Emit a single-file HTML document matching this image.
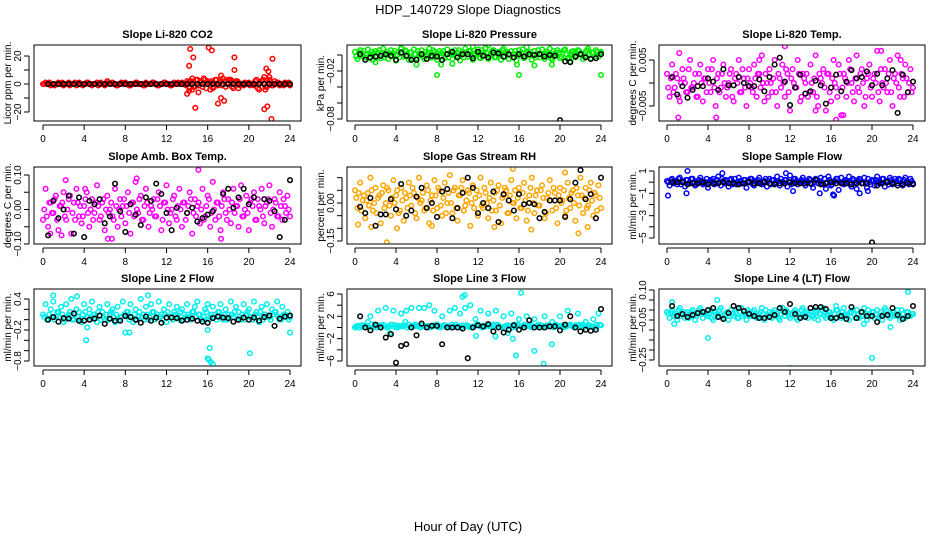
<!DOCTYPE html>
<html><head><meta charset="utf-8"><style>
html,body{margin:0;padding:0;background:#fff}
svg{display:block;font-family:"Liberation Sans",Arial,sans-serif}
</style></head><body>
<svg id="chart" width="936" height="540" viewBox="0 0 936 540" xmlns="http://www.w3.org/2000/svg">
<text x="468" y="14" font-size="13" text-anchor="middle">HDP_140729  Slope Diagnostics</text>
<text x="468" y="531" font-size="13" text-anchor="middle">Hour of Day (UTC)</text>
<g id="panels"></g>
</svg>
<script>
const xTickValues=[0,4,8,12,16,20,24];
const HRS=[0,.25,.5,.75,1,1.25,1.5,1.75,2,2.25,2.5,2.75,3,3.25,3.5,3.75,4,4.25,4.5,4.75,5,5.25,5.5,5.75,6,6.25,6.5,6.75,7,7.25,7.5,7.75,8,8.25,8.5,8.75,9,9.25,9.5,9.75,10,10.25,10.5,10.75,11,11.25,11.5,11.75,12,12.25,12.5,12.75,13,13.25,13.5,13.75,14,14.25,14.5,14.75,15,15.25,15.5,15.75,16,16.25,16.5,16.75,17,17.25,17.5,17.75,18,18.25,18.5,18.75,19,19.25,19.5,19.75,20,20.25,20.5,20.75,21,21.25,21.5,21.75,22,22.25,22.5,22.75,23,23.25,23.5,23.75,24];
const HRS2=[.12,.37,.62,.87,1.12,1.37,1.62,1.87,2.12,2.37,2.62,2.87,3.12,3.37,3.62,3.87,4.12,4.37,4.62,4.87,5.12,5.37,5.62,5.87,6.12,6.37,6.62,6.87,7.12,7.37,7.62,7.87,8.12,8.37,8.62,8.87,9.12,9.37,9.62,9.87,10.12,10.37,10.62,10.87,11.12,11.37,11.62,11.87,12.12,12.37,12.62,12.87,13.12,13.37,13.62,13.87,14.12,14.37,14.62,14.87,15.12,15.37,15.62,15.87,16.12,16.37,16.62,16.87,17.12,17.37,17.62,17.87,18.12,18.37,18.62,18.87,19.12,19.37,19.62,19.87,20.12,20.37,20.62,20.87,21.12,21.37,21.62,21.87,22.12,22.37,22.62,22.87,23.12,23.37,23.62,23.87];
const HB=[.5,1,1.5,2,2.5,3,3.5,4,4.5,5,5.5,6,6.5,7,7.5,8,8.5,9,9.5,10,10.5,11,11.5,12,12.5,13,13.5,14,14.5,15,15.5,16,16.5,17,17.5,18,18.5,19,19.5,20,20.5,21,21.5,22,22.5,23,23.5,24];

// Panel 1 CO2
const co2Color=[0,1,0,-1,0,0,1,0,-1,0,1,0,0,-1,1,0,0,1,0,-1,0,1,0,0,-1,2,0,1,0,-1,0,0,1,0,-1,0,1,0,0,-1,1,0,0,1,0,-1,0,1,0,0,-1,1,0,0,1,0,2,-3,4,-2,3,1,-2,3,2,-4,1,3,-1,2,4,-2,1,3,-3,2,1,0,-1,0,1,0,-1,3,-4,2,5,-2,3,-1,2,1,-1,0,1,0,-1];
const co2Color2=[0,0,1,0,-1,0,0,1,0,0,-1,0,1,0,0,-1,0,1,0,0,0,-1,1,0,0,1,0,0,-1,0,1,0,0,-1,0,0,1,0,0,-1,0,0,1,0,-1,0,0,1,0,-1,0,0,1,0,0,-1,1,2,-2,3,-1,2,4,-3,1,2,-2,3,1,-1,2,0,3,-2,1,2,-1,0,1,0,-1,0,2,-3,1,3,-2,1,2,-1,0,1,0,-1,0,1];
const co2OutH=[14.2,14.3,14.6,14.8,14,14.2,15.1,16.1,16.4,17,17.3,17.6,17.3,18.6,18.6,21.5,21.8,21.7,21.9,22,22.3,22.2,21.6,15,16.5,19,14.5,18];
const co2OutV=[13,25,19,-17,-7,-5,-6,26,24,-14,-10,-12,6,19,10,-18,-16,11,9,5,18,-25,-4,3,-3,-3,-4,3];
const co2Black=[0,0,0,0,0,0,0,0,0,0,0,0,0,0,0,0,0,0,0,0,0,0,0,0,0,0,0,0,0,0,0,0,0,0,0,0,0,0,0,0,0,0,0,0,0,0,0,0];
// Panel 2 Pressure
const presColor=[.004,-.005,.006,.002,-.003,.007,.001,-.006,.005,.003,-.004,.008,0,-.005,.006,.002,-.007,.004,.009,-.002,.005,-.006,.003,.007,-.004,.002,.006,-.005,.001,.008,-.003,.004,-.006,.005,.002,-.004,.007,.001,-.005,.006,.003,-.007,.004,.008,-.002,.005,-.006,.002,.007,-.004,.003,.009,-.005,.001,.006,-.003,.004,-.006,.008,.002,-.005,.005,.001,-.007,.006,.003,-.004,.010,0,-.006,.005,.002,-.003,.007,-.005,.004,.008,-.006,.002,.006,-.004,.003,.007,-.005,.001,.005,-.003,.006,.002,-.005,.004,.008,-.004,.003,.006,-.002,.004];
const presColor2=[-.002,.003,-.001,.005,.0,-.004,.004,.002,-.002,.006,.001,-.003,.004,.002,-.001,.005,.0,-.003,.002,.006,-.001,.003,-.004,.001,.005,.0,-.002,.004,.003,-.003,.006,.0,.002,-.002,.005,.001,-.003,.004,.002,-.001,.006,.0,-.003,.003,.005,-.002,.001,.004,-.003,.006,.0,.002,-.001,.005,-.003,.003,.001,.006,-.002,.004,.0,-.003,.005,.002,-.001,.007,-.002,.003,.004,.0,-.003,.006,.001,-.002,.004,.002,-.004,.005,.0,.003,-.002,.006,.001,-.003,.004,.002,-.001,.005,.0,-.002,.006,.001,.003,-.002,.004,.002];
const presOutH=[8,16,24,6,8.4,9.5,15.8,17.5,19.2,4.5,11.5,13,2,21];
const presOutV=[-.025,-.025,-.025,-.012,-.012,-.011,-.012,-.013,-.012,.008,.011,.012,-.009,-.008];
const presBlack=[.001,-.006,-.003,-.002,-.001,.001,-.001,-.006,.003,-.001,-.006,-.006,.001,-.005,-.001,-.002,-.006,.001,.004,-.003,.001,.001,-.004,.004,-.001,-.003,.003,.002,-.002,.001,-.003,.001,-.002,.001,0,.001,-.002,0,-.001,-.0815,-.008,-.009,-.002,.001,-.003,-.005,-.004,.001];
// Panel 3 Li-820 Temp
const ltColor=[.002,-.003,.004,-.001,.001,-.004,.003,0,-.002,.005,-.001,.002,-.003,.004,-.004,.001,.003,-.002,.005,-.005,.002,-.001,.004,-.003,0,.003,-.004,.002,.005,-.002,.001,-.005,.003,-.001,.004,-.003,.002,.006,-.004,0,.003,-.002,.005,-.005,.001,.004,-.003,.002,-.006,.003,-.001,.005,-.004,.002,0,-.003,.004,-.002,.006,-.005,.001,.003,-.006,.002,-.004,.005,-.001,.004,-.007,.002,-.003,.005,0,-.004,.006,-.002,.003,-.005,.001,.004,-.003,.002,.007,-.004,0,.003,-.002,.005,-.005,.002,.006,-.003,.001,.004,-.002,.003,-.001];
const ltColor2=[-.001,.001,-.002,.002,-.003,0,.001,-.002,.003,-.001,0,-.003,.002,0,.001,-.002,0,.003,-.001,.001,-.002,.002,0,-.001,.002,-.003,.001,0,-.002,.003,-.001,.001,0,-.002,.001,.002,-.001,0,.002,-.003,0,.001,-.002,.002,-.001,0,.003,-.002,.001,0,-.001,.002,-.003,.001,.002,-.002,0,.001,-.003,.002,0,-.001,.002,-.002,.001,0,-.003,.002,-.001,.001,0,.003,-.002,.001,-.001,.002,0,-.003,.002,-.001,.001,0,-.002,.003,-.001,0,.002,-.002,.001,0,-.001,.002,-.003,.001,0,-.002,.001];
const ltOutH=[1.2,1.1,4.8,11.5,13.5,17.5,20.9,16.5,17.2,9,22.8,14.5];
const ltOutV=[.0065,-.0075,-.0075,.008,.0095,.0095,.007,-.008,-.007,.005,.005,-.006];
const ltBlack=[.0013,-.0025,-.0007,-.0032,-.0015,-.0007,-.0007,.001,.0003,-.0015,.003,-.0005,-.0005,.0013,0,-.0007,-.0007,.0008,-.0018,.0013,.004,.0055,.0003,-.0048,-.001,.0018,-.0023,-.0018,.0005,-.0005,-.0045,-.001,.0018,-.0018,.0003,.0028,.001,.0013,.0025,-.0005,.002,-.0005,.001,.0028,-.0065,.0018,-.002,.0003];
// Panel 4 Amb Box Temp
const abColor=[-.03,.06,-.05,.02,-.01,.04,-.06,.01,.05,-.03,.03,-.07,.02,.06,-.02,-.04,.01,.05,-.05,.03,-.01,.07,-.03,.02,-.06,.04,0,-.02,.06,-.05,.03,.01,-.04,.05,-.07,.02,.08,-.01,.04,-.03,.06,-.05,.01,.03,-.02,.05,-.06,.02,.07,-.04,0,.04,-.03,.06,-.05,.02,-.01,.05,-.07,.03,.01,-.04,.06,-.02,.04,-.05,.08,-.03,.02,-.06,.05,-.01,.03,-.04,.06,.01,-.05,.07,-.02,.04,-.06,.03,.05,-.03,.01,.06,-.04,.02,.07,-.05,.03,-.02,.05,-.03,.01,.04,-.02];
const abColor2=[.0,-.02,.02,-.01,.03,-.03,.01,.02,-.02,.0,.04,-.01,-.03,.02,.01,-.02,.03,-.01,.0,-.03,.02,.01,-.02,.03,.0,-.01,.02,-.03,.01,.0,-.02,.03,.01,-.01,.02,-.02,.0,.03,-.03,.01,.02,-.01,.0,-.02,.03,.01,-.03,.02,.0,-.01,.03,-.02,.01,.0,.02,-.03,.01,.03,-.01,-.02,.02,.0,-.03,.01,.03,-.01,.0,.02,-.02,.01,.03,-.03,.0,.02,-.01,.01,.03,-.02,.0,-.01,.02,.01,-.03,.03,.0,-.02,.01,.03,-.01,.0,.02,-.02,.01,.03,-.01,.0,.02];
const abOutH=[15.1,9.1,0.7,2.2,6.3,6.7,17.3,1.8,4.1];
const abOutV=[.115,.09,-.07,.085,-.085,-.085,-.085,-.075,.06];
const abBlack=[-.075,.025,-.025,.0,.04,-.07,.035,-.08,.025,.015,.03,-.04,-.02,.075,-.005,-.065,.015,-.015,-.045,.035,.025,.075,.045,-.01,-.06,.005,-.11,-.01,.005,-.035,-.025,-.015,-.005,-.115,.045,.06,.005,.035,.06,.015,.035,-.135,.03,.025,-.005,-.08,-.03,.085];
// Panel 5 Gas Stream RH
const rhColor=[.05,-.02,.08,.01,-.06,.04,.10,-.03,.06,.02,-.08,.07,0,.05,-.05,.09,.03,-.04,.06,-.07,.02,.08,-.01,.04,-.06,.10,.01,-.03,.07,-.08,.03,.09,-.02,.05,-.05,.08,0,.11,-.04,.06,-.07,.03,.09,-.01,.05,-.09,.07,.02,-.05,.10,-.02,.04,-.06,.08,.01,-.03,.07,-.08,.03,.05,-.04,.09,.0,-.06,.06,-.02,.08,-.07,.03,.10,-.04,.05,-.01,.07,-.06,.02,.09,-.03,.04,-.08,.06,.01,-.05,.08,-.02,.05,-.07,.03,.10,-.04,.06,-.01,.08,-.05,.03,.07,-.02];
const rhColor2=[.02,.04,-.03,.03,.01,-.01,.05,.0,-.04,.03,.04,-.02,.06,-.01,.02,.0,.05,-.03,.01,.04,-.02,.03,.06,-.04,.02,.0,.04,-.02,.05,.01,-.03,.03,.06,-.01,.02,-.04,.04,.0,.05,-.02,.03,.06,-.03,.01,.04,.0,-.02,.05,.03,-.01,.06,.0,.02,-.03,.04,.05,-.01,.02,.06,-.04,.03,.0,.05,.02,-.02,.04,.01,-.03,.06,.0,.03,-.01,.05,.02,-.04,.04,.01,.06,-.02,.03,.0,.05,-.03,.02,.04,.0,.06,-.01,.03,.02,-.02,.05,.01,.04,-.03,.02,.03];
const rhOutH=[3.1,15.4,20.5,21.8,0.3,1.6,4.1,7.5,17.2,22.7,13.6];
const rhOutV=[-.155,.135,.12,-.12,-.085,-.095,-.1,-.09,-.105,-.095,-.095];
const rhBlack=[-.015,-.04,.02,-.09,-.045,-.045,.015,-.025,.075,-.05,-.03,.025,.06,-.02,.0,-.055,.045,.055,-.06,-.02,.04,.1,.06,-.04,.0,-.02,.045,-.075,.035,.01,-.03,.035,-.005,0,-.005,-.06,-.035,.01,.01,.01,-.055,.015,.08,.13,.015,.035,-.06,.1];
// Panel 6 Sample Flow
const sfColor=[.1,-.3,.3,0,-.2,.4,.1,-.4,.2,-.1,.3,-.3,.1,.4,-.2,0,-.5,.2,.3,-.1,.5,-.3,.1,.2,-.4,.3,0,-.2,.4,-.1,.2,-.5,.1,.3,-.3,0,.4,-.2,.1,-.4,.3,.2,-.1,.5,-.3,0,.2,-.4,.6,-.1,.3,-.2,.1,.4,-.3,0,.2,-.5,.3,-.1,.4,-.2,-.6,.5,-.3,0,.3,-.7,.4,-.2,.1,.5,-.4,.2,-.6,.3,-.1,.4,-.5,0,.2,-.3,.5,-.1,.3,-.4,.1,.4,-.2,.3,-.1,.2,-.3,.4,0,.3,-.1];
const sfColor2=[0,.2,-.1,.1,.3,-.2,0,.2,-.1,.3,0,-.2,.2,.1,-.1,.3,0,.1,-.2,.2,0,.3,-.1,.1,.2,-.2,.3,0,.1,-.1,.2,0,.3,-.2,.1,.2,-.1,0,.3,.1,-.2,.2,0,.1,.3,-.1,.2,0,-.2,.3,.1,0,.2,-.1,.1,.3,-.2,0,.2,.1,-.1,.3,0,.2,-.2,.1,.3,0,-.1,.2,.1,-.2,.3,0,.1,.2,-.1,0,.3,-.2,.1,.2,0,-.1,.3,.1,-.2,.2,0,.1,.3,-.1,.2,0,-.2,.1,.2];
const sfOutH=[0.1,2,1.9,12.3,14.9,16.3,16.2,18.8,19.6,5.4,11.6];
const sfOutV=[-1.2,1,-1,-.8,-1,-1.2,-1.1,-1,-.8,.8,.8];
const sfBlack=[0,0,0,-.2,-.1,-.1,0,-.2,-.1,-.1,0,-.1,-.1,-.2,-.1,0,-.1,-.1,0,-.1,-.2,-.1,-.1,0,-.1,-.1,-.1,-.1,.2,-.2,-.1,0,-.1,-.1,-.1,-.2,-.1,-.1,-.1,-5.4,-.3,-.1,0,-.1,-.3,-.2,-.1,-.2];
// Panel 7 Line 2 Flow
const l2Color=[.1,.3,0,.2,.35,.05,.15,.25,-.05,.3,.1,.4,.0,.2,.15,-.05,.3,.05,.2,.35,.1,-.05,.25,.15,.0,.3,.1,.2,-.05,.25,.05,.35,.1,.15,.3,-.05,.2,.05,.4,.1,.25,.0,.3,.15,.05,.35,.1,.2,-.05,.3,.05,.15,.25,0,.2,.1,.3,.05,.15,.25,.35,.1,0,.2,.3,.05,.25,.1,.15,.3,.0,.2,.1,.35,.05,.25,.15,.0,.3,.1,.2,.05,.35,.15,-.05,.25,.1,.3,.05,.2,.15,.35,0,.25,.1,.15,.05];
const l2Color2=[.05,0,.1,.05,0,.15,.05,.1,0,.05,.15,0,.1,.05,0,.1,.15,.05,0,.1,.05,.15,0,.05,.1,0,.15,.05,.1,0,.05,.1,.15,0,.05,.1,0,.15,.05,0,.1,.05,.15,0,.1,.05,0,.1,.15,.05,0,.1,.05,.15,0,.05,.1,0,.15,.05,.1,0,.05,.15,0,.1,.05,0,.15,.05,.1,0,.05,.1,.15,0,.05,.1,0,.15,.05,0,.1,.05,.15,0,.1,.05,0,.1,.15,.05,0,.1,.05,0];
const l2OutH=[4.2,16,16.1,16.3,16.5,20.1,16.2,8,8.4,24,1,3.3,10.2,4.3,16];
const l2OutV=[-.4,-.75,-.77,-.82,-.86,-.65,-.55,-.25,-.25,-.25,.47,.45,.47,-.15,-.2];
const l2Black=[0,.05,-.04,.03,.02,.12,-.02,-.02,.0,.02,.08,-.08,.02,-.02,-.02,.07,.05,.0,-.06,.06,-.02,.04,-.06,.04,.04,.03,-.02,.0,.02,-.02,-.04,-.06,.03,.06,.04,.03,-.04,.0,.04,.0,.04,-.02,.05,.08,-.12,.02,.06,.08];
// Panel 8 Line 3 Flow
const l3Color=[0,.3,0,.4,.2,1,2,0,.3,3,.2,.5,3.5,.2,.5,3,.4,.1,2.5,.3,3,.5,3.5,.2,.4,3.5,.3,3.5,.2,4,.3,3,.5,.2,2,.4,.3,3,.5,3.5,.2,2.5,.4,3.5,.3,4,.2,1.5,.5,3,.3,.4,2.5,.2,.5,3,.4,.1,2,.3,.2,2.5,.5,.3,1.5,.2,.5,2,.3,.4,1.5,.2,.5,.3,2,.4,.2,1,.5,.3,2,.4,.2,3,.5,.3,.4,2.5,.3,.5,1,.3,.2,1.5,.5,2.5,.4];
const l3Color2=[.2,0,.4,.1,.3,0,.5,.2,0,.4,.1,.3,0,.2,.5,.1,0,.3,.2,.4,0,.1,.3,.5,.2,0,.4,.1,.3,0,.2,.5,.1,0,.4,.2,.3,0,.1,.5,.2,0,.3,.4,.1,0,.2,.5,.3,0,.1,.4,.2,0,.3,.5,.1,0,.2,.4,.3,0,.1,.5,.2,0,.4,.3,.1,0,.2,.5,.3,0,.1,.4,.2,0,.5,.3,.1,0,.2,.4,.3,0,.1,.5,.2,0,.3,.4,.1,0,.2,.5,.3];
const l3OutH=[16.2,10.7,10.5,15.7,17.5,18.4,19.2,15.4,14.9,11.8,4.9,3.4,13.7];
const l3OutV=[6.2,5.8,5.5,-5,-4.2,-6.5,-3,-2,-1,-1.5,1,-1,-1.6];
const l3Black=[2,0,-.5,.5,0,-1.8,-1.2,-6.3,-3.3,-3,0,-1.4,.7,0,.3,.3,-3,0,0,0,-0.2,-5.5,0,.4,.2,.6,-.7,0,-.9,-.4,.4,-.4,0,1.3,0,0,0,.2,.2,-.5,.5,2,0,-.7,-.4,-.6,-.4,3.3];
// Panel 9 Line 4 Flow
const l4Color=[-.01,-.04,0,-.03,-.05,.01,-.02,-.04,-.01,-.03,0,-.05,-.02,.01,-.04,-.02,-.03,0,-.05,-.01,-.03,.01,-.04,-.02,-.05,0,-.03,-.01,-.04,.01,-.02,-.05,-.01,-.03,0,-.04,-.02,.01,-.05,-.03,-.01,-.04,0,-.02,-.05,.01,-.03,-.01,-.04,-.02,0,-.05,-.03,.01,-.02,-.04,-.01,-.03,0,-.05,-.02,.01,-.04,-.01,-.03,-.05,0,-.02,-.04,.01,-.03,-.05,-.01,-.02,0,-.04,-.03,.01,-.05,-.02,-.01,-.04,0,-.03,-.05,.01,-.02,-.04,-.01,-.03,0,-.05,-.02,-.04,-.01,-.03,-.02];
const l4Color2=[-.02,-.01,-.03,-.02,0,-.03,-.01,-.02,-.04,-.01,-.02,-.03,0,-.02,-.01,-.03,-.02,-.04,-.01,-.02,0,-.03,-.02,-.01,-.03,-.02,0,-.04,-.01,-.03,-.02,0,-.03,-.01,-.02,-.04,-.01,-.02,0,-.03,-.02,-.01,-.03,-.04,-.02,-.01,0,-.03,-.02,-.01,-.04,-.02,0,-.03,-.01,-.02,-.03,-.04,-.01,-.02,0,-.03,-.02,-.01,-.04,-.02,0,-.03,-.01,-.02,-.03,-.01,0,-.04,-.02,-.01,-.03,-.02,0,-.03,-.01,-.02,-.04,-.01,-.02,0,-.03,-.02,-.01,-.03,-.02,0,-.04,-.01,-.03,-.02,-.01];
const l4OutH=[4,12,20,23.5,0.5,0.7,4.9,19.2,21.8,16.5,24];
const l4OutV=[-.14,-.29,-.24,.09,.04,-.07,.05,-.07,-.085,.02,-.02];
const l4Black=[.02,-.03,-.02,-.035,-.025,-.015,-.01,0,.01,-.035,-.045,-.015,.02,.01,-.005,-.02,-.03,-.04,-.04,-.035,-.025,.01,-.01,.03,-.02,-.04,-.035,.01,.015,.015,.005,-.04,-.04,-.03,-.045,.015,-.04,-.01,-.03,-.03,-.06,-.03,-.025,.01,-.025,-.045,-.03,.02];

const panels=[
 {name:'co2',title:'Slope Li-820 CO2',ylab:'Licor ppm per min.',col:'#ff0000',c:co2Color,c2:co2Color2,oh:co2OutH,ov:co2OutV,b:co2Black,ticks:[-20,-10,0,10,20],labels:{'-20':'\u221220','0':'0','20':'20'},cal:[0,84,20,56]},
 {name:'pressure',title:'Slope Li-820 Pressure',ylab:'kPa per min.',col:'#00ee00',c:presColor,c2:presColor2,oh:presOutH,ov:presOutV,b:presBlack,ticks:[0,-0.02,-0.04,-0.06,-0.08],labels:{'-0.02':'\u22120.02','-0.08':'\u22120.08'},cal:[0,55,-0.06,103]},
 {name:'li820-temp',title:'Slope Li-820 Temp.',ylab:'degrees C per min.',col:'#ff00ff',c:ltColor,c2:ltColor2,oh:ltOutH,ov:ltOutV,b:ltBlack,ticks:[0.005,0,-0.005],labels:{'0.005':'0.005','-0.005':'\u22120.005'},cal:[0.005,60,-0.005,106]},
 {name:'amb-box-temp',title:'Slope Amb. Box Temp.',ylab:'degrees C per min.',col:'#ff00ff',c:abColor,c2:abColor2,oh:abOutH,ov:abOutV,b:abBlack,ticks:[0.1,0.05,0,-0.05,-0.1],labels:{'0.1':'0.10','0':'0.00','-0.1':'\u22120.10'},cal:[0.1,175,-0.1,244]},
 {name:'gas-stream-rh',title:'Slope Gas Stream RH',ylab:'percent per min.',col:'#ffa500',c:rhColor,c2:rhColor2,oh:rhOutH,ov:rhOutV,b:rhBlack,ticks:[0.1,0.05,0,-0.05,-0.1,-0.15],labels:{'0':'0.00','-0.15':'\u22120.15'},cal:[0,203,-0.15,241]},
 {name:'sample-flow',title:'Slope Sample Flow',ylab:'ml/min per min.',col:'#0000ff',c:sfColor,c2:sfColor2,oh:sfOutH,ov:sfOutV,b:sfBlack,ticks:[1,0,-1,-2,-3,-4,-5],labels:{'1':'1','-1':'\u22121','-3':'\u22123','-5':'\u22125'},cal:[1,171,-5,238]},
 {name:'line2-flow',title:'Slope Line 2 Flow',ylab:'ml/min per min.',col:'#00eeee',c:l2Color,c2:l2Color2,oh:l2OutH,ov:l2OutV,b:l2Black,ticks:[0.4,0.2,0,-0.2,-0.4,-0.6,-0.8],labels:{'0.4':'0.4','-0.2':'\u22120.2','-0.8':'\u22120.8'},cal:[0.4,299,-0.8,361]},
 {name:'line3-flow',title:'Slope Line 3 Flow',ylab:'ml/min per min.',col:'#00eeee',c:l3Color,c2:l3Color2,oh:l3OutH,ov:l3OutV,b:l3Black,ticks:[6,4,2,0,-2,-4,-6],labels:{'6':'6','2':'2','-2':'\u22122','-6':'\u22126'},cal:[6,294,-6,361]},
 {name:'line4-flow',title:'Slope Line 4 (LT) Flow',ylab:'ml/min per min.',col:'#00eeee',c:l4Color,c2:l4Color2,oh:l4OutH,ov:l4OutV,b:l4Black,ticks:[0.1,0.05,0,-0.05,-0.1,-0.15,-0.2,-0.25],labels:{'0.1':'0.10','-0.05':'\u22120.05','-0.25':'\u22120.25'},cal:[0.1,290,-0.25,360]}
];
const colBox=[[34,301,43,290],[347,612,355,601],[659,925,667,913]];
const rowBox=[[45,121],[167,244],[289,366]];
const NS='http://www.w3.org/2000/svg';
const root=document.getElementById('panels');
function mk(tag,attrs,parent){const e=document.createElementNS(NS,tag);for(const k in attrs)e.setAttribute(k,attrs[k]);parent.appendChild(e);return e;}
panels.forEach((p,idx)=>{
 const ci=idx%3, ri=Math.floor(idx/3);
 const [L,R,x0,x24]=colBox[ci]; const [T,B]=rowBox[ri];
 const xs=h=>x0+h*(x24-x0)/24;
 const ys=v=>p.cal[1]+(v-p.cal[0])*(p.cal[3]-p.cal[1])/(p.cal[2]-p.cal[0]);
 const g=mk('g',{},root);
 
 
 const clip=mk('clipPath',{id:'clip'+idx},g);
 mk('rect',{x:L,y:T,width:R-L,height:B-T},clip);
 const pts=mk('g',{'clip-path':'url(#clip'+idx+')',fill:'none','stroke-width':1.5},g);
 
 
 const n=Math.min(p.c.length,HRS.length);
 for(let i=0;i<n;i++){const c=mk('circle',{cx:xs(HRS[i]),cy:ys(p.c[i]),r:2.3,stroke:p.col},pts);
  
  }
 const n2=Math.min(p.c2.length,HRS2.length);
 for(let i=0;i<n2;i++){const c=mk('circle',{cx:xs(HRS2[i]),cy:ys(p.c2[i]),r:2.3,stroke:p.col},pts);
  
  }
 for(let i=0;i<p.oh.length;i++){const c=mk('circle',{cx:xs(p.oh[i]),cy:ys(p.ov[i]),r:2.3,stroke:p.col},pts);
  
  }
 const nb=Math.min(p.b.length,HB.length);
 for(let i=0;i<nb;i++){const c=mk('circle',{cx:xs(HB[i]),cy:ys(p.b[i]),r:2.3,stroke:'#000'},pts);
  
  }
 const box=mk('rect',{x:L,y:T,width:R-L,height:B-T,fill:'none',stroke:'#000','stroke-width':1},g);
 
 
 const t=mk('text',{x:(L+R)/2,y:T-7,'font-size':11,'font-weight':'bold','text-anchor':'middle'},g);
 t.textContent=p.title;
 
 
 mk('line',{x1:x0,x2:x24,y1:B+4,y2:B+4,stroke:'#000'},g);
 xTickValues.forEach(v=>{mk('line',{x1:xs(v),x2:xs(v),y1:B+4,y2:B+9,stroke:'#000'},g);
  const tl=mk('text',{x:xs(v),y:B+21,'font-size':10,'text-anchor':'middle'},g);tl.textContent=v;
  
  });
 const ya=L-5;
 mk('line',{x1:ya,x2:ya,y1:ys(p.ticks[0]),y2:ys(p.ticks[p.ticks.length-1]),stroke:'#000'},g);
 p.ticks.forEach(v=>{const y=ys(v);mk('line',{x1:ya-5,x2:ya,y1:y,y2:y,stroke:'#000'},g);
  const lab=p.labels[String(v)];
  if(lab){const tl=mk('text',{x:ya-8,y:y,'font-size':10,'text-anchor':'middle',transform:'rotate(-90 '+(ya-8)+' '+y+')'},g);tl.textContent=lab;
   
   }});
 const yl=mk('text',{x:L-23,y:(T+B)/2,'font-size':10,'text-anchor':'middle',transform:'rotate(-90 '+(L-23)+' '+(T+B)/2+')'},g);
 yl.textContent=p.ylab;
 
 
});
</script>
</body></html>
